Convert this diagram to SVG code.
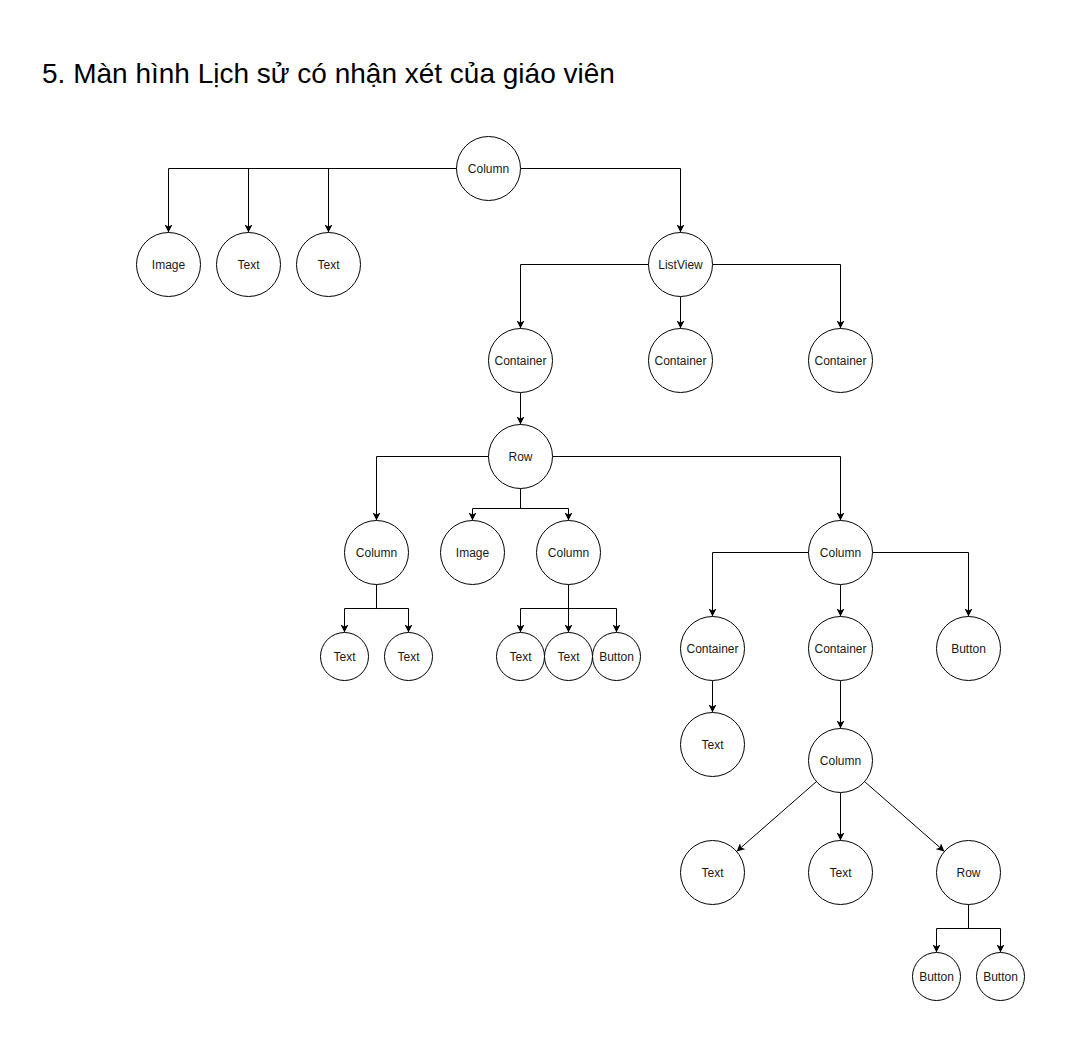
<svg xmlns="http://www.w3.org/2000/svg" width="1065" height="1041" viewBox="0 0 1065 1041">
<defs>
<marker id="arr" viewBox="0 0 8 8" refX="8" refY="4" markerWidth="8" markerHeight="8" markerUnits="userSpaceOnUse" orient="auto">
<path d="M0,0 L8,4 L0,8 L2,4 z" fill="#000"/>
</marker>
<style>
.n circle{fill:#fff;stroke:#000;stroke-width:1}
.n text{font-family:"Liberation Sans",Arial,sans-serif;font-size:12px;fill:#1a1a1a;text-anchor:middle;dominant-baseline:central}
.e path{fill:none;stroke:#000;stroke-width:1;marker-end:url(#arr)}
.t{font-family:"Liberation Sans",Arial,sans-serif;font-size:28px;fill:#000}
</style>
</defs>
<rect width="1065" height="1041" fill="#fff"/>
<text class="t" x="42" y="83">5. Màn hình Lịch sử có nhận xét của giáo viên</text>
<g transform="translate(0.5,0.5)">
<g class="e" id="edges">
<path d="M456,168 H168 V232"/>
<path d="M456,168 H248 V232"/>
<path d="M456,168 H328 V232"/>
<path d="M520,168 H680 V232"/>
<path d="M648,264 H520 V328"/>
<path d="M680,296 V328"/>
<path d="M712,264 H840 V328"/>
<path d="M520,392 V424"/>
<path d="M488,456 H376 V520"/>
<path d="M520,488 V508 H472 V520"/>
<path d="M520,488 V508 H568 V520"/>
<path d="M552,456 H840 V520"/>
<path d="M376,584 V608 H344 V632"/>
<path d="M376,584 V608 H408 V632"/>
<path d="M568,584 V608 H520 V632"/>
<path d="M568,584 V632"/>
<path d="M568,584 V608 H616 V632"/>
<path d="M808,552 H712 V616"/>
<path d="M840,584 V616"/>
<path d="M872,552 H968 V616"/>
<path d="M712,680 V712"/>
<path d="M840,680 V728"/>
<path d="M815.9,781.1 L736.1,850.9"/>
<path d="M840,792 V840"/>
<path d="M864.1,781.1 L943.9,850.9"/>
<path d="M968,904 V928 H936 V952"/>
<path d="M968,904 V928 H1000 V952"/>
</g>
<g class="n" id="n1"><circle cx="488" cy="168" r="32"/><text x="488" y="168">Column</text></g>
<g class="n" id="n2"><circle cx="168" cy="264" r="32"/><text x="168" y="264">Image</text></g>
<g class="n" id="n3"><circle cx="248" cy="264" r="32"/><text x="248" y="264">Text</text></g>
<g class="n" id="n4"><circle cx="328" cy="264" r="32"/><text x="328" y="264">Text</text></g>
<g class="n" id="n5"><circle cx="680" cy="264" r="32"/><text x="680" y="264">ListView</text></g>
<g class="n" id="n6"><circle cx="520" cy="360" r="32"/><text x="520" y="360">Container</text></g>
<g class="n" id="n7"><circle cx="680" cy="360" r="32"/><text x="680" y="360">Container</text></g>
<g class="n" id="n8"><circle cx="840" cy="360" r="32"/><text x="840" y="360">Container</text></g>
<g class="n" id="n9"><circle cx="520" cy="456" r="32"/><text x="520" y="456">Row</text></g>
<g class="n" id="n10"><circle cx="376" cy="552" r="32"/><text x="376" y="552">Column</text></g>
<g class="n" id="n11"><circle cx="472" cy="552" r="32"/><text x="472" y="552">Image</text></g>
<g class="n" id="n12"><circle cx="568" cy="552" r="32"/><text x="568" y="552">Column</text></g>
<g class="n" id="n13"><circle cx="840" cy="552" r="32"/><text x="840" y="552">Column</text></g>
<g class="n" id="n14"><circle cx="344" cy="656" r="24"/><text x="344" y="656">Text</text></g>
<g class="n" id="n15"><circle cx="408" cy="656" r="24"/><text x="408" y="656">Text</text></g>
<g class="n" id="n16"><circle cx="520" cy="656" r="24"/><text x="520" y="656">Text</text></g>
<g class="n" id="n17"><circle cx="568" cy="656" r="24"/><text x="568" y="656">Text</text></g>
<g class="n" id="n18"><circle cx="616" cy="656" r="24"/><text x="616" y="656">Button</text></g>
<g class="n" id="n19"><circle cx="712" cy="648" r="32"/><text x="712" y="648">Container</text></g>
<g class="n" id="n20"><circle cx="840" cy="648" r="32"/><text x="840" y="648">Container</text></g>
<g class="n" id="n21"><circle cx="968" cy="648" r="32"/><text x="968" y="648">Button</text></g>
<g class="n" id="n22"><circle cx="712" cy="744" r="32"/><text x="712" y="744">Text</text></g>
<g class="n" id="n23"><circle cx="840" cy="760" r="32"/><text x="840" y="760">Column</text></g>
<g class="n" id="n24"><circle cx="712" cy="872" r="32"/><text x="712" y="872">Text</text></g>
<g class="n" id="n25"><circle cx="840" cy="872" r="32"/><text x="840" y="872">Text</text></g>
<g class="n" id="n26"><circle cx="968" cy="872" r="32"/><text x="968" y="872">Row</text></g>
<g class="n" id="n27"><circle cx="936" cy="976" r="24"/><text x="936" y="976">Button</text></g>
<g class="n" id="n28"><circle cx="1000" cy="976" r="24"/><text x="1000" y="976">Button</text></g>
</g>
</svg>
